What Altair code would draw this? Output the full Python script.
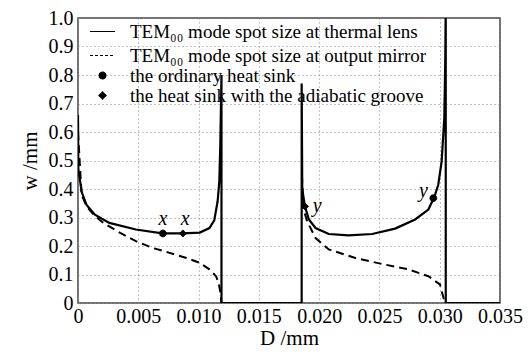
import altair as alt
import pandas as pd

# thermal-lens spot size (solid)
sol_x = [0.0, 0.00003, 0.0003, 0.0007, 0.0014, 0.0026, 0.0048, 0.0070, 0.0087, 0.0101, 0.0109, 0.0113,
         0.01158, 0.01172, 0.0118, 0.0119, 0.0119, 0.01855, 0.01855, 0.0186, 0.01882, 0.01915, 0.0197,
         0.0208, 0.02245, 0.0244, 0.0263, 0.02796, 0.02906, 0.02955, 0.02988, 0.03016, 0.03038, 0.03046,
         0.0305, 0.0305, 0.035]
sol_y = [0.66, 0.47, 0.39, 0.345, 0.31, 0.281, 0.258, 0.244, 0.244, 0.247, 0.263, 0.29,
         0.357, 0.427, 0.55, 0.80, 0.0, 0.0, 0.77, 0.40, 0.339, 0.293, 0.263,
         0.242, 0.237, 0.242, 0.261, 0.293, 0.328, 0.372, 0.415, 0.497, 0.648, 0.85,
         1.05, 0.0, 0.0]

# output-mirror spot size (dashed), two branches
dash1_x = [0.0, 0.0003, 0.0007, 0.0014, 0.0021, 0.0035, 0.0048, 0.0062, 0.0076, 0.009, 0.0101, 0.0109,
           0.01145, 0.01166, 0.0118, 0.0119]
dash1_y = [0.6, 0.38, 0.34, 0.305, 0.281, 0.246, 0.217, 0.193, 0.176, 0.158, 0.141, 0.118,
           0.094, 0.071, 0.04, 0.0]
dash2_x = [0.01857, 0.0187, 0.019, 0.0197, 0.0208, 0.023, 0.0252, 0.0274, 0.02906, 0.03002, 0.0303, 0.03045]
dash2_y = [0.45, 0.33, 0.287, 0.228, 0.188, 0.158, 0.137, 0.118, 0.094, 0.065, 0.02, 0.0]

# markers
pt_x = [0.00704, 0.0087, 0.01882, 0.02947]
pt_y = [0.244, 0.244, 0.339, 0.368]
cats = ["TEM₀₀ mode spot size at thermal lens",
        "TEM₀₀ mode spot size at output mirror",
        "the ordinary heat sink",
        "the heat sink with the adiabatic groove"]
pt_cat = [cats[2], cats[3], cats[3], cats[2]]

# annotations
lab_x = [0.00704, 0.0089, 0.01984, 0.02864]
lab_y = [0.293, 0.293, 0.339, 0.392]
lab_t = ["x", "x", "y", "y"]

FONT = "Liberation Serif"
AXFONT = "Liberation Serif, Times New Roman, serif"

rows = []
for i, (a, b) in enumerate(zip(sol_x, sol_y)):
    rows.append({"D": a, "w": b, "seg": "s", "i": i})
df_sol = pd.DataFrame(rows)
rows = []
for i, (a, b) in enumerate(zip(dash1_x, dash1_y)):
    rows.append({"D": a, "w": b, "seg": "d1", "i": i})
for i, (a, b) in enumerate(zip(dash2_x, dash2_y)):
    rows.append({"D": a, "w": b, "seg": "d2", "i": i})
df_dash = pd.DataFrame(rows)
df_pts = pd.DataFrame({"D": pt_x, "w": pt_y, "cat": pt_cat})
df_lab = pd.DataFrame({"D": lab_x, "w": lab_y, "t": lab_t})

xs = alt.Scale(domain=[0, 0.035], nice=False, zero=False)
ys = alt.Scale(domain=[0, 1.0], nice=False, zero=False)

common = dict(grid=True, gridDash=[1, 3], gridColor="#888", gridWidth=1,
              domain=False, ticks=False, labelOverlap=False, labelFlush=False,
              labelFont=AXFONT, labelFontSize=20, labelColor="black",
              titleFont=AXFONT, titleFontSize=21, titleFontWeight="normal", titleColor="black")
x_axis = alt.Axis(values=[0, 0.005, 0.01, 0.015, 0.02, 0.025, 0.03, 0.035],
                  labelExpr="datum.value == 0 ? '0' : format(datum.value, '.3f')",
                  title="D /mm", labelPadding=3, titlePadding=1, **common)
y_axis = alt.Axis(values=[round(v * 0.1, 1) for v in range(11)],
                  labelExpr="datum.value == 0 ? '0' : format(datum.value, '.1f')",
                  title="w /mm", labelPadding=5, titlePadding=8, **common)

X = alt.X("D:Q", scale=xs, axis=x_axis)
Y = alt.Y("w:Q", scale=ys, axis=y_axis)

sol = alt.Chart(df_sol).mark_line(color="black", strokeWidth=2.2, clip=True).encode(
    x=X, y=Y, order="i:Q",
)
dash = alt.Chart(df_dash).mark_line(color="black", strokeWidth=2, strokeDash=[8, 5], clip=True).encode(
    x=X, y=Y, detail="seg:N", order="i:Q",
)
pts = alt.Chart(df_pts).mark_point(filled=True, color="black", stroke="black", strokeWidth=1, opacity=1).encode(
    x=X, y=Y,
    shape=alt.Shape("cat:N", scale=alt.Scale(domain=cats, range=["stroke", "stroke", "circle", "diamond"]),
                    legend=alt.Legend(title=None, orient="none", legendX=11, legendY=0,
                                      labelFont=FONT, labelFontSize=19, labelColor="black",
                                      labelLimit=500, labelOffset=14, rowPadding=-2, padding=0,
                                      symbolStrokeColor="black", symbolFillColor="black",
                                      symbolStrokeWidth=1.2, symbolOpacity=1)),
    strokeDash=alt.StrokeDash("cat:N", scale=alt.Scale(domain=cats, range=[[1, 0], [3, 2], [1, 0], [1, 0]])),
    size=alt.Size("cat:N", scale=alt.Scale(type="ordinal", domain=cats, range=[625, 625, 45, 50])),
)
labs = alt.Chart(df_lab).mark_text(font=FONT, fontStyle="italic", fontSize=20, color="black").encode(
    x=X, y=Y, text="t:N",
)

chart = alt.layer(sol, dash, pts, labs).properties(
    width=422, height=285,
    autosize=alt.AutoSizeParams(type="none"),
    padding={"left": 70, "top": 10, "right": 23, "bottom": 45},
).configure(font=FONT).configure_view(stroke="#444", strokeWidth=1.5).configure_axis(
    labelFont=AXFONT, titleFont=AXFONT)

chart.save("out.html", embed_options={"renderer": "svg", "actions": False})
